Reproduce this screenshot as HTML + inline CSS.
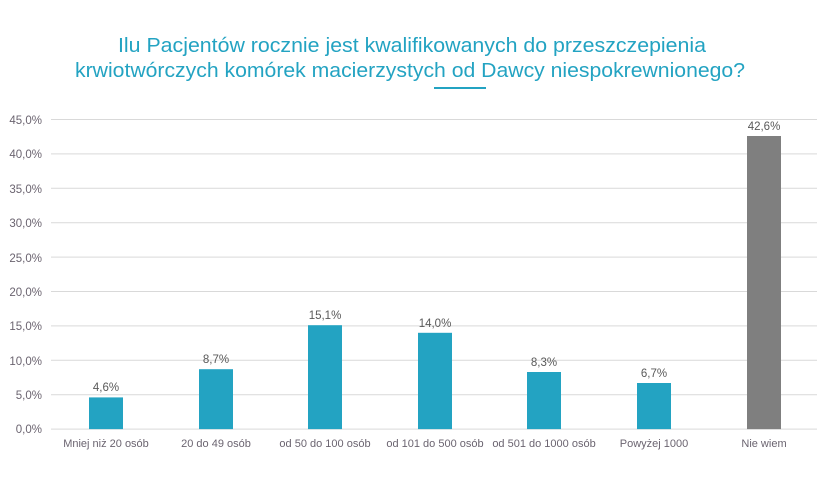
<!DOCTYPE html>
<html><head><meta charset="utf-8"><style>body{margin:0;background:#fff}svg{display:block}</style></head>
<body>
<svg width="817" height="492" xmlns="http://www.w3.org/2000/svg" font-family="Liberation Sans, sans-serif">
<rect width="817" height="492" fill="#fff"/>
<g fill="#23a3c2" font-size="20">
<text x="118" y="52" textLength="588" lengthAdjust="spacingAndGlyphs">Ilu Pacjentów rocznie jest kwalifikowanych do przeszczepienia</text>
<text x="75" y="77" textLength="670" lengthAdjust="spacingAndGlyphs">krwiotwórczych komórek macierzystych od Dawcy niespokrewnionego?</text>
</g>
<rect x="434" y="87" width="52" height="2" fill="#23a3c2"/>
<g stroke="#d9d9d9" stroke-width="1">
<line x1="51" x2="817" y1="119.5" y2="119.5"/>
<line x1="51" x2="817" y1="153.9" y2="153.9"/>
<line x1="51" x2="817" y1="188.3" y2="188.3"/>
<line x1="51" x2="817" y1="222.7" y2="222.7"/>
<line x1="51" x2="817" y1="257.1" y2="257.1"/>
<line x1="51" x2="817" y1="291.5" y2="291.5"/>
<line x1="51" x2="817" y1="325.9" y2="325.9"/>
<line x1="51" x2="817" y1="360.3" y2="360.3"/>
<line x1="51" x2="817" y1="394.7" y2="394.7"/>
<line x1="51" x2="817" y1="429.1" y2="429.1"/>
</g>
<g fill="#6b6470" font-size="11.5" text-anchor="end">
<text x="42" y="124">45,0%</text><text x="42" y="158">40,0%</text><text x="42" y="193">35,0%</text>
<text x="42" y="227">30,0%</text><text x="42" y="262">25,0%</text><text x="42" y="296">20,0%</text>
<text x="42" y="330">15,0%</text><text x="42" y="365">10,0%</text><text x="42" y="399">5,0%</text>
<text x="42" y="433">0,0%</text>
</g>
<g fill="#23a3c2">
<rect x="89" y="397.4" width="34" height="31.7"/>
<rect x="199" y="369.2" width="34" height="59.9"/>
<rect x="308" y="325.2" width="34" height="103.9"/>
<rect x="418" y="332.8" width="34" height="96.3"/>
<rect x="527" y="372" width="34" height="57.1"/>
<rect x="637" y="383" width="34" height="46.1"/>
</g>
<rect x="747" y="136" width="34" height="293.1" fill="#7f7f7f"/>
<g fill="#595959" font-size="11.5" text-anchor="middle">
<text x="106" y="391">4,6%</text><text x="216" y="363">8,7%</text><text x="325" y="319">15,1%</text>
<text x="435" y="327">14,0%</text><text x="544" y="366">8,3%</text><text x="654" y="377">6,7%</text>
<text x="764" y="130">42,6%</text>
</g>
<g fill="#6b6470" font-size="11" text-anchor="middle">
<text x="106" y="447">Mniej niż 20 osób</text><text x="216" y="447">20 do 49 osób</text>
<text x="325" y="447">od 50 do 100 osób</text><text x="435" y="447">od 101 do 500 osób</text>
<text x="544" y="447">od 501 do 1000 osób</text><text x="654" y="447">Powyżej 1000</text>
<text x="764" y="447">Nie wiem</text>
</g>
</svg>
</body></html>
